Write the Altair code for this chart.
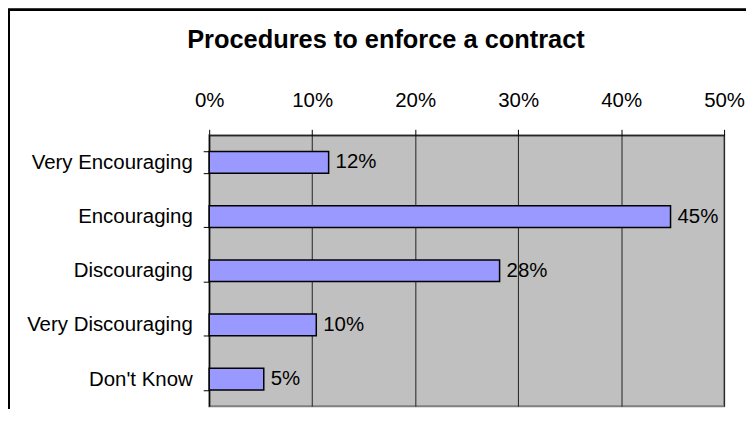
import altair as alt
import pandas as pd

categories = ["Very Encouraging", "Encouraging", "Discouraging", "Very Discouraging", "Don't Know"]
shares = [0.116, 0.448, 0.282, 0.104, 0.053]
x_ticks = [0, 0.1, 0.2, 0.3, 0.4, 0.5]

df = pd.DataFrame({"category": categories, "share": shares})

FONT = "Liberation Sans"

y_enc = alt.Y(
    "category:N",
    sort=categories,
    title=None,
    scale=alt.Scale(paddingInner=0.6, paddingOuter=0.3),
    axis=alt.Axis(
        tickBand="extent",
        tickSize=6,
        tickColor="black",
        domainColor="black",
        labelPadding=11,
        labelFontSize=20.5,
        labelColor="black",
        labelFont=FONT,
        grid=False,
    ),
)

x_enc = alt.X(
    "share:Q",
    title=None,
    scale=alt.Scale(domain=[0, 0.5], nice=False),
    axis=alt.Axis(
        orient="top",
        values=x_ticks,
        format=".0%",
        tickSize=6,
        tickColor="black",
        domainColor="black",
        labelFlush=False,
        labelPadding=19,
        labelFontSize=20.5,
        labelColor="black",
        labelFont=FONT,
        grid=True,
        gridColor="#222222",
        gridWidth=1,
        gridOpacity=1,
    ),
)

bars = alt.Chart(df).mark_bar(
    color="#9999FF", stroke="black", strokeWidth=1.5
).encode(x=x_enc, y=y_enc)

labels = alt.Chart(df).mark_text(
    align="left", baseline="middle", dx=7, fontSize=20.5, font=FONT, color="black"
).encode(
    x=alt.X("share:Q"),
    y=alt.Y("category:N", sort=categories),
    text=alt.Text("share:Q", format=".0%"),
)

frame = alt.Chart(df).mark_rect(
    fill=None, stroke="black", strokeWidth=2, clip=False
).encode(
    x=alt.value(-201), x2=alt.value(560), y=alt.value(-126), y2=alt.value(320)
)

chart = alt.layer(frame, bars, labels).properties(
    width=517,
    height=272,
    padding={"left": 202, "top": 127, "right": 22, "bottom": 2},
    autosize=alt.AutoSizeParams(type="none"),
    title=alt.TitleParams(
        "Procedures to enforce a contract",
        font=FONT,
        fontSize=25.5,
        fontWeight="bold",
        color="black",
        anchor="middle",
        frame="group",
        dx=-81,
        offset=0,
        dy=45,
    ),
).configure_view(
    fill="#C0C0C0", stroke="#808080", strokeWidth=2
)

chart.save("out.html", embed_options={"renderer": "svg", "actions": False})
